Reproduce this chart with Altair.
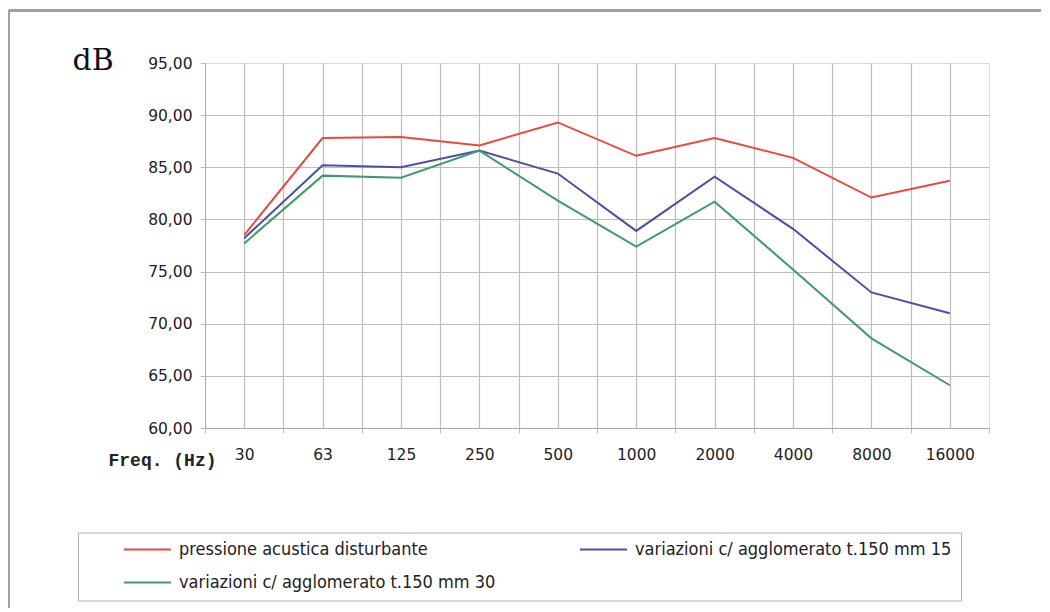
import altair as alt
import pandas as pd

freqs = ["30", "63", "125", "250", "500", "1000", "2000", "4000", "8000", "16000"]
series_names = [
    "pressione acustica disturbante",
    "variazioni c/ agglomerato t.150 mm 15",
    "variazioni c/ agglomerato t.150 mm 30",
]
pressione = [78.5, 87.8, 87.9, 87.1, 89.3, 86.1, 87.8, 85.9, 82.1, 83.7]
var_mm15 = [78.2, 85.2, 85.0, 86.6, 84.4, 78.9, 84.1, 79.1, 73.0, 71.0]
var_mm30 = [77.7, 84.2, 84.0, 86.6, 81.8, 77.4, 81.7, 75.2, 68.6, 64.1]
colors = ["#e8493f", "#4b4fa6", "#3f9a6e"]

rows = []
for name, vals in zip(series_names, [pressione, var_mm15, var_mm30]):
    for i, (f, v) in enumerate(zip(freqs, vals)):
        rows.append({"idx": i, "freq": f, "value": v, "serie": name})
df = pd.DataFrame(rows)

# legend grid fills column by column: order so row 1 = red, blue; row 2 = green
legend_order = [series_names[0], series_names[2], series_names[1]]
legend_colors = [colors[0], colors[2], colors[1]]

label_expr = "datum.value % 1 === 0 ? " + str(freqs) + "[datum.value] : ''"
x_ticks = [i / 2 for i in range(-1, 20)]

grid_col = "#bdbdbd"

x_axis = alt.Axis(
    values=x_ticks,
    labelExpr=label_expr,
    title="Freq. (Hz)",
    titleFont="Liberation Mono",
    titleFontWeight="bold",
    titleFontSize=18,
    titleColor="#222222",
    titleAnchor="start",
    titleAlign="left",
    titleBaseline="alphabetic",
    titleX=-97,
    titleY=37,
    labelFont="DejaVu Sans",
    labelFontSize=15.5,
    labelColor="#222222",
    labelPadding=14,
    labelFlush=False,
    labelOverlap=False,
    tickSize=5,
    tickColor=grid_col,
    tickOpacity=alt.condition("datum.value % 1 === 0", alt.value(0), alt.value(1)),
    domainColor="#a8a8a8",
    gridColor=grid_col,
    gridWidth=1.2,
    gridOpacity=alt.condition("datum.value === 9.5 || datum.value === -0.5", alt.value(0), alt.value(1)),
)

y_axis = alt.Axis(
    values=[60, 65, 70, 75, 80, 85, 90, 95],
    labelExpr="replace(format(datum.value, '.2f'), '.', ',')",
    title="dB",
    titleFont="DejaVu Serif",
    titleFontWeight="normal",
    titleFontSize=30,
    titleColor="#111111",
    titleAngle=0,
    titleAlign="left",
    titleBaseline="alphabetic",
    titleX=-133,
    titleY=6,
    labelFont="DejaVu Sans",
    labelFontSize=15.5,
    labelColor="#222222",
    labelPadding=8,
    tickSize=5,
    tickColor=grid_col,
    domainColor="#a8a8a8",
    gridColor=grid_col,
    gridWidth=1.2,
    gridOpacity=alt.condition("datum.value === 95 || datum.value === 60", alt.value(0), alt.value(1)),
)

legend = alt.Legend(
    title=None,
    orient="none",
    legendX=-127,
    legendY=469.5,
    columns=2,
    symbolType="stroke",
    symbolSize=2209,
    symbolStrokeWidth=2,
    symbolOffset=36,
    labelOffset=7,
    clipHeight=16,
    labelFont="DejaVu Sans Condensed, Liberation Sans Narrow, Liberation Sans",
    labelFontSize=18,
    labelColor="#222222",
    labelLimit=500,
    padding=9,
    rowPadding=15,
    columnPadding=47,
    strokeColor="#b0b0b0",
    fillColor="#ffffff",
)

lines = alt.Chart(df).mark_line(strokeWidth=2).encode(
    x=alt.X("idx:Q", scale=alt.Scale(domain=[-0.5, 9.5], nice=False, zero=False), axis=x_axis),
    y=alt.Y("value:Q", scale=alt.Scale(domain=[60, 95], nice=False, zero=False), axis=y_axis),
    color=alt.Color("serie:N", scale=alt.Scale(domain=legend_order, range=legend_colors), legend=legend),
    order="idx:Q",
    detail="serie:N",
)

frame_left = alt.Chart(df).mark_rule(color="#a0a0a0", strokeWidth=2).encode(
    x=alt.value(-196), y=alt.value(-52.5), y2=alt.value(600)
)
frame_top = alt.Chart(df).mark_rule(color="#a0a0a0", strokeWidth=2).encode(
    x=alt.value(-196), x2=alt.value(900), y=alt.value(-52.5)
)

chart = alt.layer(frame_left, frame_top, lines).properties(
    width=784,
    height=365,
    autosize=alt.AutoSizeParams(type="none"),
    padding={"left": 197, "top": 55, "right": 52, "bottom": 180},
).configure_view(stroke=None).configure(background="#ffffff")

chart.save("out.html", embed_options={"renderer": "svg", "actions": False})
